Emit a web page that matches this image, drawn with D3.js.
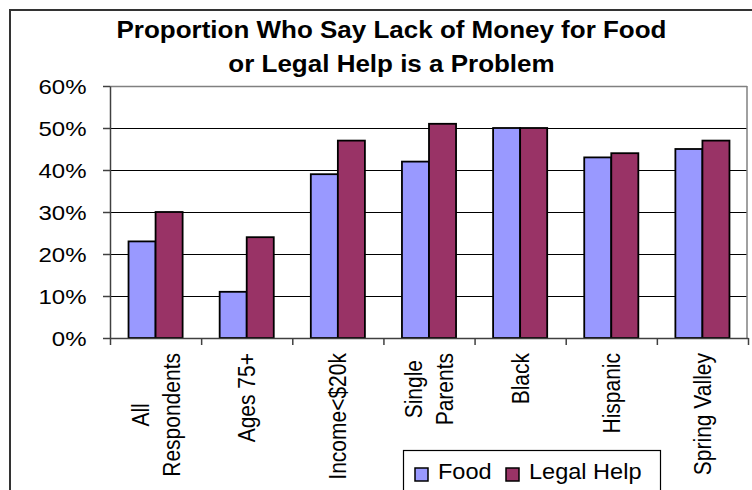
<!DOCTYPE html>
<html>
<head>
<meta charset="utf-8">
<script src="https://cdn.jsdelivr.net/npm/d3@7"></script>
<style>
  html, body { margin: 0; padding: 0; background: #fff; }
  svg { display: block; }
  text { font-family: "Liberation Sans", Arial, sans-serif; fill: #000; }
</style>
</head>
<body>
<svg id="chart" width="752" height="490"></svg>
<script>
// Survey groups (line breaks mark wrapped labels)
const categories = ["All\nRespondents", "Ages 75+", "Income<$20k", "Single\nParents", "Black", "Hispanic", "Spring Valley"];
// Percent saying lack of money is a problem
const foodValues  = [23, 11, 39, 42, 50, 43, 45];
const legalValues = [30, 24, 47, 51, 50, 44, 47];
const seriesNames = ["Food", "Legal Help"];
const seriesColors = ["#9999FF", "#993366"];
const yTicks = [0, 10, 20, 30, 40, 50, 60];
const titleLines = ["Proportion Who Say Lack of Money for Food", "or Legal Help is a Problem"];

const svg = d3.select("#chart");
const W = 752, H = 490;
const plot = { left: 110, right: 747, top: 86, bottom: 338 };

svg.append("rect").attr("width", W).attr("height", H).attr("fill", "#fff");

// outer chart frame
svg.append("rect")
  .attr("x", 10).attr("y", 10).attr("width", 800).attr("height", 520)
  .attr("fill", "none").attr("stroke", "#333").attr("stroke-width", 2);

// title
svg.append("g").selectAll("text").data(titleLines).join("text")
  .attr("transform", (d, i) => `translate(391.5,${38 + i * 34}) scale(1.13,1)`)
  .attr("text-anchor", "middle")
  .style("font-size", "23px").style("font-weight", "bold")
  .text(d => d);

const y = d3.scaleLinear().domain([0, 60]).range([plot.bottom, plot.top]);
const x = d3.scaleBand().domain(categories).range([plot.left, plot.right + 1]).padding(0);
const xs = d3.scaleBand().domain(seriesNames).range([0, x.bandwidth()]).paddingInner(0).paddingOuter(0.685);

// gridlines
svg.append("g").selectAll("line").data(yTicks.filter(t => t > 0)).join("line")
  .attr("x1", plot.left).attr("x2", plot.right)
  .attr("y1", d => Math.round(y(d)) + 0.5).attr("y2", d => Math.round(y(d)) + 0.5)
  .attr("stroke", d => d === 60 ? "#808080" : "#000")
  .attr("stroke-width", d => d === 60 ? 1.5 : 1);

// right border of plot area
svg.append("line")
  .attr("x1", plot.right).attr("x2", plot.right)
  .attr("y1", plot.top).attr("y2", plot.bottom)
  .attr("stroke", "#808080").attr("stroke-width", 1.5);

// bars
const rows = categories.map((c, i) => ({ c, vals: [foodValues[i], legalValues[i]] }));
const groups = svg.append("g").selectAll("g").data(rows).join("g")
  .attr("transform", d => `translate(${x(d.c)},0)`);
groups.selectAll("rect").data(d => d.vals.map((v, j) => ({ v, s: seriesNames[j], j }))).join("rect")
  .attr("x", d => xs(d.s))
  .attr("width", xs.bandwidth())
  .attr("y", d => y(d.v))
  .attr("height", d => y(0) - y(d.v))
  .attr("fill", d => seriesColors[d.j])
  .attr("stroke", "#000").attr("stroke-width", 1.8);

// y axis
const yAxis = svg.append("g")
  .attr("transform", `translate(${plot.left},0)`)
  .call(d3.axisLeft(y).tickValues(yTicks).tickFormat(d => d + "%").tickSize(7).tickSizeOuter(0));
yAxis.selectAll("path, line").attr("stroke", "#404040").attr("stroke-width", 1.5);
yAxis.selectAll("text")
  .attr("x", 0).attr("dy", null).attr("y", 7.5)
  .attr("transform", "translate(-23.5,0) scale(1.2,1)")
  .attr("text-anchor", "end")
  .style("font-size", "20px").style("font-family", "'Liberation Sans', Arial, sans-serif");

// x axis with tick marks at category boundaries
const xb = d3.scaleLinear().domain([0, categories.length]).range([plot.left, plot.right + 1]);
const xAxis = svg.append("g")
  .attr("transform", `translate(0,${plot.bottom})`)
  .call(d3.axisBottom(xb).tickValues(d3.range(categories.length + 1)).tickFormat("").tickSize(7).tickSizeOuter(0));
xAxis.selectAll("path, line").attr("stroke", "#404040").attr("stroke-width", 1.5);

// rotated category labels
const labelTop = 353;
const lab = svg.append("g");
categories.forEach(c => {
  const lines = c.split("\n");
  const cx = x(c) + x.bandwidth() / 2;
  const nodes = lines.map((t, i) => lab.append("text")
    .attr("text-anchor", "middle").attr("dy", "0.36em")
    .style("font-size", "21px")
    .text(t));
  const maxLen = d3.max(nodes, n => n.node().getComputedTextLength());
  nodes.forEach((n, i) => {
    const lx = cx + (i - (lines.length - 1) / 2) * 31;
    n.attr("transform", `translate(${lx},${labelTop + maxLen / 2}) scale(1.13,1) rotate(-90)`);
  });
});

// legend
const legend = svg.append("g");
legend.append("rect")
  .attr("x", 403.5).attr("y", 450.5).attr("width", 257).attr("height", 60)
  .attr("fill", "#fff").attr("stroke", "#000").attr("stroke-width", 1.2);
const legendX = [415, 506];
seriesNames.forEach((s, i) => {
  legend.append("rect")
    .attr("x", legendX[i]).attr("y", 468).attr("width", 13).attr("height", 13)
    .attr("fill", seriesColors[i]).attr("stroke", "#000").attr("stroke-width", 1.5);
  legend.append("text")
    .attr("transform", `translate(${legendX[i] + 23},479) scale(1.07,1)`)
    .style("font-size", "22px")
    .text(s);
});
</script>
</body>
</html>
